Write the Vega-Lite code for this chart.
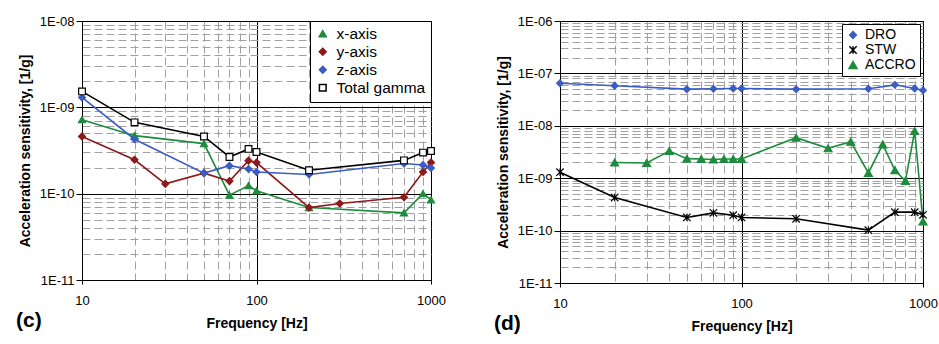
{
  "$schema": "https://vega.github.io/schema/vega-lite/v6.json",
  "background": "white",
  "padding": {"left": 15, "top": 14, "right": 0, "bottom": 2},
  "bounds": "flush",
  "spacing": 129,
  "config": {
    "font": "Liberation Sans",
    "view": {"stroke": "black", "strokeWidth": 1},
    "axis": {
      "labelFont": "Liberation Sans", "labelFontSize": 13, "labelColor": "black",
      "titleFont": "Liberation Sans", "titleFontSize": 14, "titleFontWeight": "bold", "titleColor": "black",
      "domainColor": "black", "tickColor": "black", "labelOverlap": false, "labelFlush": false,
      "gridColor": {"condition": {"test": "abs(log(datum.value)/LN10 - round(log(datum.value)/LN10)) < 1e-6", "value": "black"}, "value": "#a0a0a0"},
      "gridDash": {"condition": {"test": "abs(log(datum.value)/LN10 - round(log(datum.value)/LN10)) < 1e-6", "value": []}, "value": [8, 4]},
      "tickOpacity": {"condition": {"test": "abs(log(datum.value)/LN10 - round(log(datum.value)/LN10)) < 1e-6", "value": 1}, "value": 0}
    },
    "axisX": {"tickSize": 4, "labelPadding": 10, "titlePadding": 9,
      "labelExpr": "abs(log(datum.value)/LN10 - round(log(datum.value)/LN10)) < 1e-6 ? format(datum.value, 'd') : ''"},
    "axisY": {"tickSize": 6, "labelPadding": 2, "titlePadding": 7,
      "labelExpr": "abs(log(datum.value)/LN10 - round(log(datum.value)/LN10)) < 1e-6 ? '1E-' + (round(-log(datum.value)/LN10) < 10 ? '0' : '') + round(-log(datum.value)/LN10) : ''"},
    "legend": {"title": null, "orient": "top-right", "strokeColor": "black", "fillColor": "white",
      "labelFont": "Liberation Sans", "labelColor": "black", "symbolStrokeWidth": 1.5},
    "title": {"font": "Liberation Sans", "fontSize": 21, "fontWeight": "bold", "color": "black"}
  },
  "datasets": {
    "c": [
      {"s": "x-axis", "f": 10, "v": 7.2e-10}, {"s": "x-axis", "f": 20, "v": 4.7e-10}, {"s": "x-axis", "f": 50, "v": 3.8e-10},
      {"s": "x-axis", "f": 70, "v": 9.6e-11}, {"s": "x-axis", "f": 90, "v": 1.24e-10}, {"s": "x-axis", "f": 100, "v": 1.08e-10},
      {"s": "x-axis", "f": 200, "v": 6.9e-11}, {"s": "x-axis", "f": 700, "v": 6.0e-11}, {"s": "x-axis", "f": 900, "v": 1.0e-10},
      {"s": "x-axis", "f": 1000, "v": 8.5e-11},
      {"s": "y-axis", "f": 10, "v": 4.6e-10}, {"s": "y-axis", "f": 20, "v": 2.47e-10}, {"s": "y-axis", "f": 30, "v": 1.3e-10},
      {"s": "y-axis", "f": 50, "v": 1.73e-10}, {"s": "y-axis", "f": 70, "v": 1.4e-10}, {"s": "y-axis", "f": 90, "v": 2.41e-10},
      {"s": "y-axis", "f": 100, "v": 2.29e-10}, {"s": "y-axis", "f": 200, "v": 6.9e-11}, {"s": "y-axis", "f": 300, "v": 7.7e-11},
      {"s": "y-axis", "f": 700, "v": 9.1e-11}, {"s": "y-axis", "f": 900, "v": 1.78e-10}, {"s": "y-axis", "f": 1000, "v": 2.3e-10},
      {"s": "z-axis", "f": 10, "v": 1.3e-9}, {"s": "z-axis", "f": 20, "v": 4.27e-10}, {"s": "z-axis", "f": 50, "v": 1.73e-10},
      {"s": "z-axis", "f": 70, "v": 2.11e-10}, {"s": "z-axis", "f": 90, "v": 1.93e-10}, {"s": "z-axis", "f": 100, "v": 1.78e-10},
      {"s": "z-axis", "f": 200, "v": 1.67e-10}, {"s": "z-axis", "f": 700, "v": 2.24e-10}, {"s": "z-axis", "f": 900, "v": 2.15e-10},
      {"s": "z-axis", "f": 1000, "v": 1.98e-10},
      {"s": "Total gamma", "f": 10, "v": 1.53e-9}, {"s": "Total gamma", "f": 20, "v": 6.7e-10}, {"s": "Total gamma", "f": 50, "v": 4.6e-10},
      {"s": "Total gamma", "f": 70, "v": 2.66e-10}, {"s": "Total gamma", "f": 90, "v": 3.3e-10}, {"s": "Total gamma", "f": 100, "v": 3.04e-10},
      {"s": "Total gamma", "f": 200, "v": 1.87e-10}, {"s": "Total gamma", "f": 700, "v": 2.43e-10}, {"s": "Total gamma", "f": 900, "v": 2.99e-10},
      {"s": "Total gamma", "f": 1000, "v": 3.12e-10}
    ],
    "d": [
      {"s": "DRO", "f": 10, "v": 6.5e-8}, {"s": "DRO", "f": 20, "v": 5.8e-8}, {"s": "DRO", "f": 50, "v": 5.0e-8},
      {"s": "DRO", "f": 70, "v": 5.08e-8}, {"s": "DRO", "f": 90, "v": 5.15e-8}, {"s": "DRO", "f": 100, "v": 5.15e-8},
      {"s": "DRO", "f": 200, "v": 5.0e-8}, {"s": "DRO", "f": 500, "v": 5.08e-8}, {"s": "DRO", "f": 700, "v": 6.05e-8},
      {"s": "DRO", "f": 900, "v": 5.15e-8}, {"s": "DRO", "f": 1000, "v": 4.78e-8},
      {"s": "STW", "f": 10, "v": 1.3e-9}, {"s": "STW", "f": 20, "v": 4.27e-10}, {"s": "STW", "f": 50, "v": 1.78e-10},
      {"s": "STW", "f": 70, "v": 2.18e-10}, {"s": "STW", "f": 90, "v": 1.97e-10}, {"s": "STW", "f": 100, "v": 1.78e-10},
      {"s": "STW", "f": 200, "v": 1.68e-10}, {"s": "STW", "f": 500, "v": 1.02e-10}, {"s": "STW", "f": 700, "v": 2.25e-10},
      {"s": "STW", "f": 900, "v": 2.25e-10}, {"s": "STW", "f": 1000, "v": 2.0e-10},
      {"s": "ACCRO", "f": 20, "v": 2.0e-9}, {"s": "ACCRO", "f": 30, "v": 1.95e-9}, {"s": "ACCRO", "f": 40, "v": 3.3e-9},
      {"s": "ACCRO", "f": 50, "v": 2.36e-9}, {"s": "ACCRO", "f": 60, "v": 2.33e-9}, {"s": "ACCRO", "f": 70, "v": 2.28e-9},
      {"s": "ACCRO", "f": 80, "v": 2.33e-9}, {"s": "ACCRO", "f": 90, "v": 2.33e-9}, {"s": "ACCRO", "f": 100, "v": 2.33e-9},
      {"s": "ACCRO", "f": 200, "v": 5.93e-9}, {"s": "ACCRO", "f": 300, "v": 3.72e-9}, {"s": "ACCRO", "f": 400, "v": 4.98e-9},
      {"s": "ACCRO", "f": 500, "v": 1.26e-9}, {"s": "ACCRO", "f": 600, "v": 4.43e-9}, {"s": "ACCRO", "f": 700, "v": 1.42e-9},
      {"s": "ACCRO", "f": 800, "v": 8.9e-10}, {"s": "ACCRO", "f": 900, "v": 7.94e-9}, {"s": "ACCRO", "f": 1000, "v": 1.49e-10}
    ]
  },
  "hconcat": [
    {
      "width": 349, "height": 259,
      "data": {"name": "c"},
      "title": {"text": "(c)", "orient": "bottom", "anchor": "start", "frame": "group", "dx": -66, "dy": -24},
      "encoding": {
        "x": {"field": "f", "type": "quantitative", "title": "Frequency [Hz]",
          "scale": {"type": "log", "domain": [10, 1000], "nice": false},
          "axis": {"values": [10, 20, 30, 40, 50, 60, 70, 80, 90, 100, 200, 300, 400, 500, 600, 700, 800, 900, 1000]}},
        "y": {"field": "v", "type": "quantitative", "title": "Acceleration sensitivity, [1/g]",
          "scale": {"type": "log", "domain": [1e-11, 1e-8], "nice": false},
          "axis": {"values": [1e-11, 2e-11, 3e-11, 4e-11, 5e-11, 6e-11, 7e-11, 8e-11, 9e-11, 1e-10, 2e-10, 3e-10, 4e-10, 5e-10, 6e-10, 7e-10, 8e-10, 9e-10, 1e-9, 2e-9, 3e-9, 4e-9, 5e-9, 6e-9, 7e-9, 8e-9, 9e-9, 1e-8]}}
      },
      "layer": [
        {"mark": {"type": "line", "strokeWidth": 1.6, "clip": false},
          "encoding": {"stroke": {"field": "s", "type": "nominal",
            "scale": {"domain": ["x-axis", "y-axis", "z-axis", "Total gamma"], "range": ["#1e8c3c", "#8b1a1a", "#3b5cc4", "#000000"]},
            "legend": {"offset": 0, "padding": 5, "labelFontSize": 15.5, "rowPadding": 1, "labelOffset": 6, "symbolSize": 144,
                "encode": {"symbols": {"update": {
                  "size": {"value": 144},
                  "strokeWidth": {"value": 1.5},
                  "shape": {"signal": "datum.value === 'x-axis' ? 'M-1.6,0H1.6M0,-0.62L0.62,0.45L-0.62,0.45Z' : datum.value === 'Total gamma' ? 'M-1.6,0H-0.6M0.6,0H1.6M-0.6,-0.6H0.6V0.6H-0.6Z' : 'M-1.6,0H1.6M0,-0.62L0.55,0L0,0.62L-0.55,0Z'"},
                  "fill": {"signal": "datum.value === 'x-axis' ? '#1e8c3c' : datum.value === 'y-axis' ? '#8b1a1a' : datum.value === 'z-axis' ? '#3b5cc4' : '#ffffff'"},
                  "stroke": {"signal": "datum.value === 'x-axis' ? '#1e8c3c' : datum.value === 'y-axis' ? '#8b1a1a' : datum.value === 'z-axis' ? '#3b5cc4' : '#000000'"}
                }}}}}}},
        {"mark": {"type": "point", "filled": false, "strokeWidth": 1.2, "opacity": 1, "clip": false},
          "encoding": {
            "stroke": {"field": "s", "type": "nominal",
              "legend": {"offset": 0, "padding": 5, "labelFontSize": 15.5, "rowPadding": 1, "labelOffset": 6, "symbolSize": 144,
                "encode": {"symbols": {"update": {
                  "size": {"value": 144},
                  "strokeWidth": {"value": 1.5},
                  "shape": {"signal": "datum.value === 'x-axis' ? 'M-1.6,0H1.6M0,-0.62L0.62,0.45L-0.62,0.45Z' : datum.value === 'Total gamma' ? 'M-1.6,0H-0.6M0.6,0H1.6M-0.6,-0.6H0.6V0.6H-0.6Z' : 'M-1.6,0H1.6M0,-0.62L0.55,0L0,0.62L-0.55,0Z'"},
                  "fill": {"signal": "datum.value === 'x-axis' ? '#1e8c3c' : datum.value === 'y-axis' ? '#8b1a1a' : datum.value === 'z-axis' ? '#3b5cc4' : '#ffffff'"},
                  "stroke": {"signal": "datum.value === 'x-axis' ? '#1e8c3c' : datum.value === 'y-axis' ? '#8b1a1a' : datum.value === 'z-axis' ? '#3b5cc4' : '#000000'"}
                }}}}},
            "fill": {"field": "s", "type": "nominal",
              "scale": {"domain": ["x-axis", "y-axis", "z-axis", "Total gamma"], "range": ["#1e8c3c", "#8b1a1a", "#3b5cc4", "#ffffff"]},
              "legend": {"offset": 0, "padding": 5, "labelFontSize": 15.5, "rowPadding": 1, "labelOffset": 6, "symbolSize": 144,
                "encode": {"symbols": {"update": {
                  "size": {"value": 144},
                  "strokeWidth": {"value": 1.5},
                  "shape": {"signal": "datum.value === 'x-axis' ? 'M-1.6,0H1.6M0,-0.62L0.62,0.45L-0.62,0.45Z' : datum.value === 'Total gamma' ? 'M-1.6,0H-0.6M0.6,0H1.6M-0.6,-0.6H0.6V0.6H-0.6Z' : 'M-1.6,0H1.6M0,-0.62L0.55,0L0,0.62L-0.55,0Z'"},
                  "fill": {"signal": "datum.value === 'x-axis' ? '#1e8c3c' : datum.value === 'y-axis' ? '#8b1a1a' : datum.value === 'z-axis' ? '#3b5cc4' : '#ffffff'"},
                  "stroke": {"signal": "datum.value === 'x-axis' ? '#1e8c3c' : datum.value === 'y-axis' ? '#8b1a1a' : datum.value === 'z-axis' ? '#3b5cc4' : '#000000'"}
                }}}}},
            "size": {"field": "s", "type": "nominal",
              "scale": {"domain": ["x-axis", "y-axis", "z-axis", "Total gamma"], "range": [50, 45, 45, 100]},
              "legend": {"offset": 0, "padding": 5, "labelFontSize": 15.5, "rowPadding": 1, "labelOffset": 6, "symbolSize": 144,
                "encode": {"symbols": {"update": {
                  "size": {"value": 144},
                  "strokeWidth": {"value": 1.5},
                  "shape": {"signal": "datum.value === 'x-axis' ? 'M-1.6,0H1.6M0,-0.62L0.62,0.45L-0.62,0.45Z' : datum.value === 'Total gamma' ? 'M-1.6,0H-0.6M0.6,0H1.6M-0.6,-0.6H0.6V0.6H-0.6Z' : 'M-1.6,0H1.6M0,-0.62L0.55,0L0,0.62L-0.55,0Z'"},
                  "fill": {"signal": "datum.value === 'x-axis' ? '#1e8c3c' : datum.value === 'y-axis' ? '#8b1a1a' : datum.value === 'z-axis' ? '#3b5cc4' : '#ffffff'"},
                  "stroke": {"signal": "datum.value === 'x-axis' ? '#1e8c3c' : datum.value === 'y-axis' ? '#8b1a1a' : datum.value === 'z-axis' ? '#3b5cc4' : '#000000'"}
                }}}}},
            "shape": {"field": "s", "type": "nominal",
              "scale": {"domain": ["x-axis", "y-axis", "z-axis", "Total gamma"], "range": ["triangle-up", "diamond", "diamond", "square"]},
              "legend": {"offset": 0, "padding": 5, "labelFontSize": 15.5, "rowPadding": 1, "labelOffset": 6, "symbolSize": 144,
                "encode": {"symbols": {"update": {
                  "size": {"value": 144},
                  "strokeWidth": {"value": 1.5},
                  "shape": {"signal": "datum.value === 'x-axis' ? 'M-1.6,0H1.6M0,-0.62L0.62,0.45L-0.62,0.45Z' : datum.value === 'Total gamma' ? 'M-1.6,0H-0.6M0.6,0H1.6M-0.6,-0.6H0.6V0.6H-0.6Z' : 'M-1.6,0H1.6M0,-0.62L0.55,0L0,0.62L-0.55,0Z'"},
                  "fill": {"signal": "datum.value === 'x-axis' ? '#1e8c3c' : datum.value === 'y-axis' ? '#8b1a1a' : datum.value === 'z-axis' ? '#3b5cc4' : '#ffffff'"},
                  "stroke": {"signal": "datum.value === 'x-axis' ? '#1e8c3c' : datum.value === 'y-axis' ? '#8b1a1a' : datum.value === 'z-axis' ? '#3b5cc4' : '#000000'"}
                }}}}}
          }}
      ]
    },
    {
      "width": 363, "height": 262,
      "data": {"name": "d"},
      "title": {"text": "(d)", "orient": "bottom", "anchor": "start", "frame": "group", "dx": -66, "dy": -24},
      "encoding": {
        "x": {"field": "f", "type": "quantitative", "title": "Frequency [Hz]",
          "scale": {"type": "log", "domain": [10, 1000], "nice": false},
          "axis": {"values": [10, 20, 30, 40, 50, 60, 70, 80, 90, 100, 200, 300, 400, 500, 600, 700, 800, 900, 1000]}},
        "y": {"field": "v", "type": "quantitative", "title": "Acceleration sensitivity, [1/g]",
          "scale": {"type": "log", "domain": [1e-11, 1e-6], "nice": false},
          "axis": {"values": [1e-11, 2e-11, 3e-11, 4e-11, 5e-11, 6e-11, 7e-11, 8e-11, 9e-11, 1e-10, 2e-10, 3e-10, 4e-10, 5e-10, 6e-10, 7e-10, 8e-10, 9e-10, 1e-9, 2e-9, 3e-9, 4e-9, 5e-9, 6e-9, 7e-9, 8e-9, 9e-9, 1e-8, 2e-8, 3e-8, 4e-8, 5e-8, 6e-8, 7e-8, 8e-8, 9e-8, 1e-7, 2e-7, 3e-7, 4e-7, 5e-7, 6e-7, 7e-7, 8e-7, 9e-7, 1e-6]}}
      },
      "layer": [
        {"mark": {"type": "line", "strokeWidth": 1.6, "clip": false},
          "encoding": {"stroke": {"field": "s", "type": "nominal",
            "scale": {"domain": ["DRO", "STW", "ACCRO"], "range": ["#3b5cc4", "#000000", "#1e8c3c"]},
            "legend": {"offset": 3, "padding": 4, "labelFontSize": 14, "rowPadding": 1, "labelOffset": 5, "symbolSize": 121,
                "encode": {"symbols": {"update": {
                  "size": {"value": 121},
                  "strokeWidth": {"value": 1.5},
                  "shape": {"signal": "datum.value === 'ACCRO' ? 'M-1.6,0H1.6M0,-0.62L0.62,0.45L-0.62,0.45Z' : datum.value === 'STW' ? 'M-1.6,0H-1M1,0H1.6M-0.5,-0.5L0.5,0.5M-0.5,0.5L0.5,-0.5M0,-0.5L0,0.5' : 'M-1.6,0H1.6M0,-0.62L0.55,0L0,0.62L-0.55,0Z'"},
                  "fill": {"signal": "datum.value === 'DRO' ? '#3b5cc4' : datum.value === 'ACCRO' ? '#1e8c3c' : 'transparent'"},
                  "stroke": {"signal": "datum.value === 'DRO' ? '#3b5cc4' : datum.value === 'ACCRO' ? '#1e8c3c' : '#000000'"}
                }}}}}}},
        {"mark": {"type": "point", "filled": false, "strokeWidth": 1.2, "opacity": 1, "clip": false},
          "encoding": {
            "stroke": {"field": "s", "type": "nominal",
              "legend": {"offset": 3, "padding": 4, "labelFontSize": 14, "rowPadding": 1, "labelOffset": 5, "symbolSize": 121,
                "encode": {"symbols": {"update": {
                  "size": {"value": 121},
                  "strokeWidth": {"value": 1.5},
                  "shape": {"signal": "datum.value === 'ACCRO' ? 'M-1.6,0H1.6M0,-0.62L0.62,0.45L-0.62,0.45Z' : datum.value === 'STW' ? 'M-1.6,0H-1M1,0H1.6M-0.5,-0.5L0.5,0.5M-0.5,0.5L0.5,-0.5M0,-0.5L0,0.5' : 'M-1.6,0H1.6M0,-0.62L0.55,0L0,0.62L-0.55,0Z'"},
                  "fill": {"signal": "datum.value === 'DRO' ? '#3b5cc4' : datum.value === 'ACCRO' ? '#1e8c3c' : 'transparent'"},
                  "stroke": {"signal": "datum.value === 'DRO' ? '#3b5cc4' : datum.value === 'ACCRO' ? '#1e8c3c' : '#000000'"}
                }}}}},
            "fill": {"field": "s", "type": "nominal",
              "scale": {"domain": ["DRO", "STW", "ACCRO"], "range": ["#3b5cc4", "transparent", "#1e8c3c"]},
              "legend": {"offset": 3, "padding": 4, "labelFontSize": 14, "rowPadding": 1, "labelOffset": 5, "symbolSize": 121,
                "encode": {"symbols": {"update": {
                  "size": {"value": 121},
                  "strokeWidth": {"value": 1.5},
                  "shape": {"signal": "datum.value === 'ACCRO' ? 'M-1.6,0H1.6M0,-0.62L0.62,0.45L-0.62,0.45Z' : datum.value === 'STW' ? 'M-1.6,0H-1M1,0H1.6M-0.5,-0.5L0.5,0.5M-0.5,0.5L0.5,-0.5M0,-0.5L0,0.5' : 'M-1.6,0H1.6M0,-0.62L0.55,0L0,0.62L-0.55,0Z'"},
                  "fill": {"signal": "datum.value === 'DRO' ? '#3b5cc4' : datum.value === 'ACCRO' ? '#1e8c3c' : 'transparent'"},
                  "stroke": {"signal": "datum.value === 'DRO' ? '#3b5cc4' : datum.value === 'ACCRO' ? '#1e8c3c' : '#000000'"}
                }}}}},
            "size": {"field": "s", "type": "nominal",
              "scale": {"domain": ["DRO", "STW", "ACCRO"], "range": [45, 64, 50]},
              "legend": {"offset": 3, "padding": 4, "labelFontSize": 14, "rowPadding": 1, "labelOffset": 5, "symbolSize": 121,
                "encode": {"symbols": {"update": {
                  "size": {"value": 121},
                  "strokeWidth": {"value": 1.5},
                  "shape": {"signal": "datum.value === 'ACCRO' ? 'M-1.6,0H1.6M0,-0.62L0.62,0.45L-0.62,0.45Z' : datum.value === 'STW' ? 'M-1.6,0H-1M1,0H1.6M-0.5,-0.5L0.5,0.5M-0.5,0.5L0.5,-0.5M0,-0.5L0,0.5' : 'M-1.6,0H1.6M0,-0.62L0.55,0L0,0.62L-0.55,0Z'"},
                  "fill": {"signal": "datum.value === 'DRO' ? '#3b5cc4' : datum.value === 'ACCRO' ? '#1e8c3c' : 'transparent'"},
                  "stroke": {"signal": "datum.value === 'DRO' ? '#3b5cc4' : datum.value === 'ACCRO' ? '#1e8c3c' : '#000000'"}
                }}}}},
            "shape": {"field": "s", "type": "nominal",
              "scale": {"domain": ["DRO", "STW", "ACCRO"], "range": ["diamond", "M-1,-1L1,1M-1,1L1,-1M0,-1L0,1", "triangle-up"]},
              "legend": {"offset": 3, "padding": 4, "labelFontSize": 14, "rowPadding": 1, "labelOffset": 5, "symbolSize": 121,
                "encode": {"symbols": {"update": {
                  "size": {"value": 121},
                  "strokeWidth": {"value": 1.5},
                  "shape": {"signal": "datum.value === 'ACCRO' ? 'M-1.6,0H1.6M0,-0.62L0.62,0.45L-0.62,0.45Z' : datum.value === 'STW' ? 'M-1.6,0H-1M1,0H1.6M-0.5,-0.5L0.5,0.5M-0.5,0.5L0.5,-0.5M0,-0.5L0,0.5' : 'M-1.6,0H1.6M0,-0.62L0.55,0L0,0.62L-0.55,0Z'"},
                  "fill": {"signal": "datum.value === 'DRO' ? '#3b5cc4' : datum.value === 'ACCRO' ? '#1e8c3c' : 'transparent'"},
                  "stroke": {"signal": "datum.value === 'DRO' ? '#3b5cc4' : datum.value === 'ACCRO' ? '#1e8c3c' : '#000000'"}
                }}}}}
          }}
      ]
    }
  ],
  "resolve": {"scale": {"stroke": "independent", "fill": "independent", "shape": "independent", "size": "independent"}}
}
